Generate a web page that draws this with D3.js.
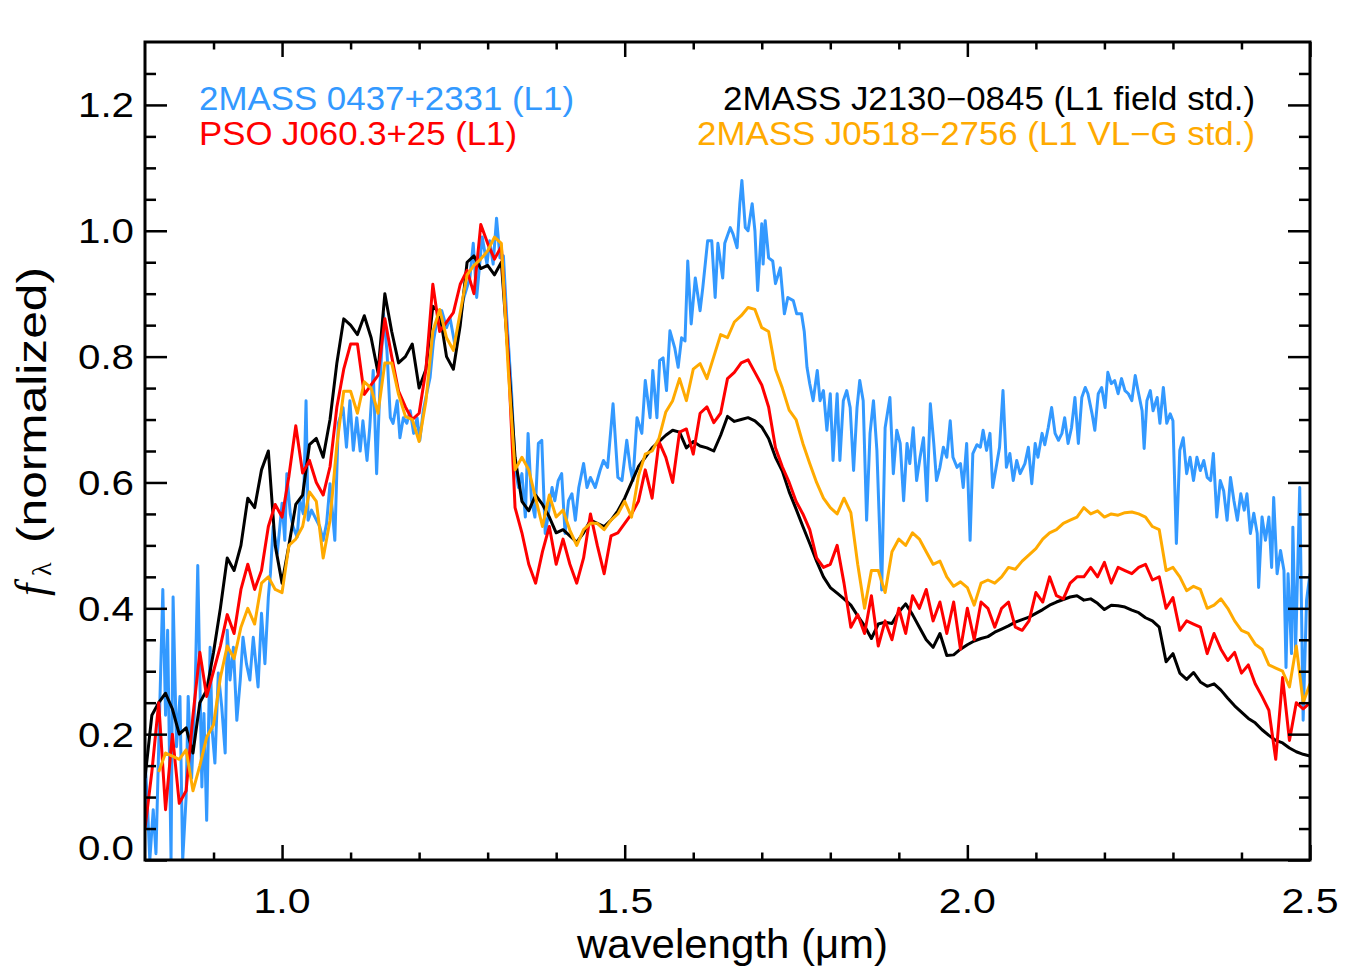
<!DOCTYPE html>
<html>
<head>
<meta charset="utf-8">
<script src="https://cdn.jsdelivr.net/npm/d3@7/dist/d3.min.js"></script>
<style>
  body { margin: 0; background: #fff; }
  text { font-family: "Liberation Sans", Arial, Helvetica, sans-serif; }
</style>
</head>
<body>
<div id="chart-area"></div>
<script>
/*
*    near-infrared spectra, L1 dwarfs
*/

// common wavelength grid (um) for the field std, PSO and VL-G std spectra
var wave = [
  0.80,0.81,0.82,0.83,0.84,0.85,0.86,0.87,0.88,0.89,
  0.90,0.91,0.92,0.93,0.94,0.95,0.96,0.97,0.98,0.99,
  1.00,1.01,1.02,1.03,1.04,1.05,1.06,1.07,1.08,1.09,
  1.10,1.11,1.12,1.13,1.14,1.15,1.16,1.17,1.18,1.19,
  1.20,1.21,1.22,1.23,1.24,1.25,1.26,1.27,1.28,1.29,
  1.30,1.31,1.32,1.33,1.34,1.35,1.36,1.37,1.38,1.39,
  1.40,1.41,1.42,1.43,1.44,1.45,1.46,1.47,1.48,1.49,
  1.50,1.51,1.52,1.53,1.54,1.55,1.56,1.57,1.58,1.59,
  1.60,1.61,1.62,1.63,1.64,1.65,1.66,1.67,1.68,1.69,
  1.70,1.71,1.72,1.73,1.74,1.75,1.76,1.77,1.78,1.79,
  1.80,1.81,1.82,1.83,1.84,1.85,1.86,1.87,1.88,1.89,
  1.90,1.91,1.92,1.93,1.94,1.95,1.96,1.97,1.98,1.99,
  2.00,2.01,2.02,2.03,2.04,2.05,2.06,2.07,2.08,2.09,
  2.10,2.11,2.12,2.13,2.14,2.15,2.16,2.17,2.18,2.19,
  2.20,2.21,2.22,2.23,2.24,2.25,2.26,2.27,2.28,2.29,
  2.30,2.31,2.32,2.33,2.34,2.35,2.36,2.37,2.38,2.39,
  2.40,2.41,2.42,2.43,2.44,2.45,2.46,2.47,2.48,2.49,
  2.50
];

// 2MASS J2130-0845 (L1 field std.)
var fieldStd = [
  0.13,0.23,0.25,0.265,0.24,0.20,0.21,0.17,0.25,0.27,
  0.33,0.40,0.48,0.46,0.50,0.575,0.56,0.62,0.65,0.50,
  0.44,0.50,0.565,0.58,0.66,0.67,0.64,0.70,0.79,0.86,
  0.85,0.835,0.865,0.83,0.775,0.90,0.84,0.79,0.80,0.82,
  0.75,0.78,0.88,0.87,0.80,0.78,0.85,0.95,0.96,0.94,
  0.945,0.93,0.95,0.80,0.64,0.57,0.555,0.58,0.565,0.545,
  0.52,0.525,0.515,0.505,0.52,0.54,0.535,0.53,0.54,0.555,
  0.575,0.60,0.625,0.64,0.655,0.665,0.675,0.683,0.68,0.655,
  0.665,0.658,0.655,0.65,0.675,0.705,0.697,0.70,0.703,0.698,
  0.688,0.67,0.64,0.618,0.585,0.558,0.53,0.503,0.475,0.45,
  0.433,0.424,0.415,0.405,0.388,0.372,0.352,0.375,0.378,0.376,
  0.394,0.407,0.39,0.37,0.35,0.338,0.36,0.325,0.326,0.335,
  0.342,0.348,0.352,0.355,0.362,0.367,0.372,0.378,0.382,0.386,
  0.392,0.398,0.405,0.41,0.414,0.418,0.42,0.413,0.415,0.408,
  0.398,0.405,0.404,0.402,0.397,0.393,0.385,0.38,0.37,0.315,
  0.328,0.297,0.287,0.298,0.283,0.276,0.28,0.27,0.257,0.245,
  0.235,0.225,0.218,0.207,0.198,0.19,0.186,0.178,0.172,0.168,
  0.165
];

// PSO J060.3+25 (L1)
var psoFlux = [
  0.05,0.14,0.25,0.08,0.20,0.09,0.11,0.23,0.33,0.26,
  0.30,0.34,0.39,0.36,0.43,0.47,0.43,0.46,0.53,0.565,
  0.545,0.61,0.69,0.615,0.635,0.60,0.58,0.625,0.72,0.78,
  0.82,0.82,0.74,0.755,0.77,0.86,0.80,0.745,0.72,0.70,
  0.71,0.78,0.915,0.84,0.855,0.87,0.915,0.937,0.90,1.01,
  0.98,0.955,0.975,0.80,0.56,0.52,0.47,0.44,0.49,0.53,
  0.47,0.51,0.47,0.44,0.48,0.55,0.50,0.455,0.515,0.52,
  0.535,0.55,0.57,0.62,0.575,0.665,0.64,0.60,0.68,0.685,
  0.645,0.71,0.72,0.695,0.71,0.765,0.775,0.79,0.795,0.775,
  0.755,0.72,0.655,0.625,0.60,0.57,0.55,0.525,0.48,0.465,
  0.47,0.50,0.44,0.37,0.39,0.36,0.42,0.34,0.38,0.35,
  0.40,0.36,0.42,0.40,0.43,0.38,0.41,0.36,0.41,0.335,
  0.40,0.35,0.41,0.40,0.37,0.40,0.41,0.37,0.365,0.38,
  0.425,0.41,0.45,0.42,0.415,0.44,0.45,0.45,0.465,0.45,
  0.473,0.44,0.465,0.46,0.455,0.465,0.47,0.445,0.45,0.40,
  0.417,0.365,0.38,0.375,0.37,0.328,0.36,0.335,0.317,0.33,
  0.297,0.31,0.28,0.26,0.238,0.16,0.29,0.19,0.25,0.24,
  0.25
];

// 2MASS J0518-2756 (L1 VL-G std.), starts at 0.82 um
var vlgStd = [
  null,null,0.14,0.17,0.165,0.16,0.175,0.11,0.15,0.195,
  0.215,0.29,0.34,0.32,0.37,0.40,0.375,0.44,0.45,0.43,
  0.425,0.50,0.51,0.53,0.585,0.57,0.48,0.54,0.66,0.745,
  0.745,0.71,0.76,0.75,0.71,0.79,0.79,0.74,0.705,0.70,
  0.665,0.73,0.84,0.875,0.83,0.81,0.87,0.93,0.945,0.955,
  0.968,0.99,0.98,0.78,0.62,0.64,0.62,0.575,0.53,0.58,
  0.545,0.556,0.524,0.50,0.525,0.535,0.535,0.525,0.54,0.55,
  0.57,0.545,0.61,0.645,0.65,0.67,0.712,0.73,0.765,0.73,
  0.78,0.789,0.765,0.80,0.835,0.83,0.855,0.865,0.878,0.875,
  0.846,0.84,0.78,0.75,0.715,0.70,0.662,0.63,0.60,0.575,
  0.56,0.55,0.575,0.552,0.47,0.40,0.46,0.46,0.425,0.49,
  0.51,0.50,0.52,0.51,0.49,0.47,0.475,0.45,0.435,0.442,
  0.433,0.405,0.44,0.445,0.44,0.45,0.465,0.462,0.475,0.485,
  0.495,0.51,0.52,0.525,0.535,0.54,0.545,0.56,0.55,0.555,
  0.545,0.55,0.548,0.552,0.553,0.55,0.545,0.53,0.525,0.46,
  0.465,0.45,0.428,0.435,0.43,0.40,0.405,0.415,0.40,0.38,
  0.365,0.36,0.343,0.335,0.31,0.305,0.30,0.275,0.34,0.25,
  0.28
];

// 2MASS 0437+2331 (L1), own sampling: [wavelength, flux]
var blueSpec = [
  [0.800,0.16],[0.803,0.10],[0.807,0.00],[0.812,0.08],[0.816,0.01],[0.820,0.18],[0.826,0.43],[0.830,0.23],[0.833,0.365],[0.838,0.00],
  [0.841,0.418],[0.846,0.18],[0.851,0.26],[0.855,0.00],[0.860,0.10],[0.863,0.26],[0.868,0.13],[0.873,0.26],[0.877,0.468],[0.883,0.116],
  [0.886,0.233],[0.890,0.063],[0.895,0.338],[0.898,0.206],[0.902,0.154],[0.907,0.297],[0.912,0.243],[0.917,0.17],[0.920,0.365],[0.924,0.286],
  [0.929,0.338],[0.934,0.222],[0.939,0.286],[0.943,0.354],[0.948,0.312],[0.953,0.286],[0.958,0.354],[0.965,0.275],[0.970,0.392],[0.975,0.312],
  [0.980,0.418],[0.983,0.455],[0.987,0.53],[0.993,0.487],[1.000,0.567],[1.004,0.508],[1.007,0.614],[1.012,0.55],[1.016,0.53],[1.022,0.513],
  [1.026,0.571],[1.031,0.55],[1.035,0.73],[1.038,0.54],[1.043,0.556],[1.048,0.545],[1.055,0.53],[1.060,0.508],[1.065,0.535],[1.070,0.598],
  [1.077,0.508],[1.082,0.694],[1.089,0.719],[1.094,0.656],[1.099,0.73],[1.104,0.651],[1.109,0.703],[1.114,0.65],[1.118,0.698],[1.124,0.635],
  [1.128,0.688],[1.133,0.778],[1.138,0.614],[1.143,0.757],[1.148,0.868],[1.153,0.81],[1.158,0.703],[1.162,0.694],[1.168,0.73],[1.172,0.671],
  [1.177,0.703],[1.182,0.694],[1.187,0.714],[1.192,0.678],[1.197,0.703],[1.201,0.667],[1.206,0.714],[1.211,0.741],[1.216,0.767],[1.221,0.825],
  [1.226,0.857],[1.233,0.873],[1.240,0.846],[1.245,0.862],[1.252,0.82],[1.260,0.857],[1.264,0.889],[1.274,0.925],[1.279,0.98],[1.284,0.894],
  [1.292,0.99],[1.299,0.947],[1.303,0.984],[1.308,0.947],[1.313,1.02],[1.318,0.957],[1.323,0.96],[1.328,0.86],[1.335,0.741],[1.340,0.624],
  [1.345,0.592],[1.350,0.614],[1.355,0.545],[1.359,0.678],[1.364,0.571],[1.369,0.545],[1.374,0.662],[1.379,0.667],[1.384,0.519],[1.388,0.545],
  [1.394,0.592],[1.398,0.571],[1.403,0.603],[1.408,0.614],[1.413,0.519],[1.418,0.571],[1.423,0.582],[1.428,0.54],[1.433,0.592],[1.440,0.63],
  [1.445,0.592],[1.450,0.608],[1.457,0.592],[1.464,0.619],[1.469,0.635],[1.475,0.624],[1.483,0.725],[1.490,0.608],[1.496,0.603],[1.503,0.667],
  [1.508,0.624],[1.512,0.603],[1.518,0.703],[1.525,0.678],[1.530,0.762],[1.537,0.703],[1.541,0.778],[1.547,0.703],[1.551,0.794],[1.556,0.798],
  [1.561,0.746],[1.566,0.841],[1.573,0.814],[1.578,0.783],[1.583,0.83],[1.588,0.825],[1.592,0.952],[1.597,0.852],[1.603,0.925],[1.610,0.873],
  [1.614,0.91],[1.621,0.984],[1.627,0.984],[1.632,0.894],[1.636,0.98],[1.643,0.925],[1.646,0.98],[1.654,1.005],[1.658,0.995],[1.664,0.973],
  [1.668,1.043],[1.671,1.08],[1.676,1.005],[1.680,1.0],[1.686,1.043],[1.690,1.0],[1.694,0.905],[1.700,1.011],[1.702,0.947],[1.705,1.016],
  [1.710,0.957],[1.716,0.952],[1.720,0.916],[1.727,0.941],[1.733,0.868],[1.738,0.894],[1.746,0.889],[1.751,0.868],[1.758,0.868],[1.762,0.84],
  [1.766,0.783],[1.770,0.757],[1.775,0.73],[1.781,0.778],[1.785,0.73],[1.790,0.746],[1.795,0.683],[1.800,0.741],[1.804,0.635],[1.810,0.741],
  [1.814,0.635],[1.819,0.73],[1.824,0.746],[1.829,0.719],[1.834,0.619],[1.839,0.719],[1.843,0.762],[1.848,0.73],[1.853,0.54],[1.858,0.678],
  [1.863,0.73],[1.868,0.651],[1.875,0.429],[1.880,0.687],[1.887,0.735],[1.892,0.614],[1.897,0.683],[1.902,0.662],[1.907,0.571],[1.912,0.662],
  [1.916,0.63],[1.921,0.687],[1.926,0.603],[1.931,0.64],[1.936,0.671],[1.941,0.571],[1.946,0.725],[1.951,0.662],[1.955,0.603],[1.960,0.624],
  [1.965,0.656],[1.970,0.64],[1.975,0.698],[1.979,0.64],[1.985,0.624],[1.990,0.63],[1.994,0.592],[1.999,0.662],[2.004,0.508],[2.008,0.646],
  [2.014,0.66],[2.019,0.656],[2.023,0.683],[2.028,0.651],[2.033,0.678],[2.037,0.592],[2.043,0.63],[2.047,0.656],[2.052,0.746],[2.057,0.624],
  [2.062,0.646],[2.067,0.603],[2.072,0.635],[2.077,0.614],[2.084,0.63],[2.089,0.656],[2.094,0.598],[2.099,0.662],[2.103,0.64],[2.109,0.678],
  [2.113,0.66],[2.118,0.687],[2.123,0.719],[2.128,0.678],[2.133,0.667],[2.138,0.678],[2.142,0.703],[2.147,0.662],[2.152,0.687],[2.157,0.735],
  [2.162,0.662],[2.167,0.735],[2.172,0.751],[2.176,0.741],[2.182,0.709],[2.186,0.683],[2.191,0.741],[2.196,0.751],[2.201,0.719],[2.205,0.775],
  [2.210,0.757],[2.215,0.762],[2.220,0.741],[2.225,0.765],[2.230,0.746],[2.235,0.741],[2.240,0.73],[2.245,0.77],[2.249,0.746],[2.255,0.714],
  [2.258,0.654],[2.262,0.73],[2.267,0.746],[2.271,0.714],[2.277,0.735],[2.281,0.694],[2.286,0.751],[2.291,0.694],[2.296,0.709],[2.300,0.698],
  [2.305,0.503],[2.310,0.651],[2.315,0.671],[2.320,0.614],[2.325,0.64],[2.330,0.603],[2.335,0.64],[2.340,0.619],[2.345,0.635],[2.350,0.608],
  [2.355,0.603],[2.359,0.646],[2.364,0.545],[2.369,0.603],[2.374,0.587],[2.379,0.54],[2.384,0.608],[2.389,0.571],[2.394,0.54],[2.399,0.582],
  [2.404,0.556],[2.408,0.582],[2.413,0.519],[2.418,0.551],[2.423,0.519],[2.425,0.433],[2.430,0.545],[2.435,0.508],[2.440,0.545],[2.444,0.465],
  [2.447,0.576],[2.452,0.455],[2.457,0.492],[2.462,0.46],[2.465,0.306],[2.468,0.455],[2.473,0.328],[2.475,0.529],[2.479,0.333],[2.485,0.592],
  [2.490,0.222],[2.495,0.413],[2.500,0.455]
];

var xMajor = [1.0, 1.5, 2.0, 2.5];
var xMinor = [0.9, 1.1, 1.2, 1.3, 1.4, 1.6, 1.7, 1.8, 1.9, 2.1, 2.2, 2.3, 2.4];
var xLabels = ["1.0", "1.5", "2.0", "2.5"];
var yMajor = [0.0, 0.2, 0.4, 0.6, 0.8, 1.0, 1.2];
var yMinor = [0.05, 0.1, 0.15, 0.25, 0.3, 0.35, 0.45, 0.5, 0.55, 0.65, 0.7, 0.75,
              0.85, 0.9, 0.95, 1.05, 1.1, 1.15, 1.25];
var yLabels = ["0.0", "0.2", "0.4", "0.6", "0.8", "1.0", "1.2"];

var legendLeft = [
  {name: "2MASS 0437+2331 (L1)", color: "#3399ff", len: 375},
  {name: "PSO J060.3+25 (L1)", color: "#ff0000", len: 318}
];
var legendRight = [
  {name: "2MASS J2130\u22120845 (L1 field std.)", color: "#000000", len: 532},
  {name: "2MASS J0518\u22122756 (L1 VL\u2212G std.)", color: "#ffaa00", len: 558}
];

var margin = {left: 145, right: 1310, top: 42, bottom: 860};

var svg = d3.select("#chart-area")
  .append("svg")
  .attr("width", 1350)
  .attr("height", 975);

var x = d3.scaleLinear().domain([0.8, 2.5]).range([margin.left, margin.right]);
var y = d3.scaleLinear().domain([0, 1.3]).range([margin.bottom, margin.top]);

svg.append("clipPath").attr("id", "plot-clip")
  .append("rect")
  .attr("x", margin.left).attr("y", margin.top)
  .attr("width", margin.right - margin.left)
  .attr("height", margin.bottom - margin.top);

var line = d3.line()
  .defined(d => d[1] != null)
  .x(d => x(d[0]))
  .y(d => y(d[1]));

var series = [
  {data: blueSpec, color: "#3399ff"},
  {data: wave.map((w, i) => [w, fieldStd[i]]), color: "#000000"},
  {data: wave.map((w, i) => [w, psoFlux[i]]), color: "#ff0000"},
  {data: wave.map((w, i) => [w, vlgStd[i]]), color: "#ffaa00"}
];

svg.append("g")
  .attr("clip-path", "url(#plot-clip)")
  .selectAll("path")
  .data(series)
  .enter().append("path")
  .attr("d", d => line(d.data))
  .attr("fill", "none")
  .attr("stroke", d => d.color)
  .attr("stroke-width", 3)
  .attr("stroke-linejoin", "round");

// inward ticks on all four sides
function ticks(axis, vals, size, tx, ty) {
  svg.append("g")
    .attr("transform", "translate(" + tx + "," + ty + ")")
    .call(axis.tickValues(vals).tickSize(size).tickSizeOuter(0).tickFormat(""))
    .call(g => g.select(".domain").remove())
    .selectAll("line")
    .attr("stroke", "#000")
    .attr("stroke-width", 2.5);
}
ticks(d3.axisBottom(x), xMajor, -15, 0, margin.bottom);
ticks(d3.axisBottom(x), xMinor, -7.5, 0, margin.bottom);
ticks(d3.axisTop(x), xMajor, -15, 0, margin.top);
ticks(d3.axisTop(x), xMinor, -7.5, 0, margin.top);
ticks(d3.axisLeft(y), yMajor, -22, margin.left, 0);
ticks(d3.axisLeft(y), yMinor, -11, margin.left, 0);
ticks(d3.axisRight(y), yMajor, -22, margin.right, 0);
ticks(d3.axisRight(y), yMinor, -11, margin.right, 0);

svg.append("rect")
  .attr("x", margin.left).attr("y", margin.top)
  .attr("width", margin.right - margin.left)
  .attr("height", margin.bottom - margin.top)
  .attr("fill", "none")
  .attr("stroke", "#000")
  .attr("stroke-width", 3);

// tick labels
svg.selectAll(".xlab")
  .data(xMajor)
  .enter().append("text")
  .attr("class", "xlab")
  .attr("x", d => x(d))
  .attr("y", 913)
  .attr("text-anchor", "middle")
  .attr("font-size", "35px")
  .attr("textLength", 57)
  .attr("lengthAdjust", "spacingAndGlyphs")
  .text((d, i) => xLabels[i]);

svg.selectAll(".ylab")
  .data(yMajor)
  .enter().append("text")
  .attr("class", "ylab")
  .attr("x", 134)
  .attr("y", d => d === 0 ? 860 : y(d) + 12.5)
  .attr("text-anchor", "end")
  .attr("font-size", "35px")
  .attr("textLength", 56)
  .attr("lengthAdjust", "spacingAndGlyphs")
  .text((d, i) => yLabels[i]);

// axis titles
svg.append("text")
  .attr("x", 577)
  .attr("y", 958)
  .attr("font-size", "40px")
  .attr("textLength", 311)
  .attr("lengthAdjust", "spacingAndGlyphs")
  .text("wavelength (\u03bcm)");

var yTitle = svg.append("g")
  .attr("transform", "translate(46,600) rotate(-90)");
yTitle.append("text")
  .attr("x", 4).attr("y", 0)
  .attr("font-size", "44px")
  .style("font-family", "'Liberation Serif', 'DejaVu Serif', serif")
  .style("font-style", "italic")
  .text("f");
yTitle.append("text")
  .attr("x", 24).attr("y", 5)
  .attr("font-size", "28px")
  .style("font-family", "'Liberation Serif', 'DejaVu Serif', serif")
  .text("\u03bb");
yTitle.append("text")
  .attr("x", 57).attr("y", 0)
  .attr("font-size", "40px")
  .attr("textLength", 276)
  .attr("lengthAdjust", "spacingAndGlyphs")
  .text("(normalized)");

// legend
svg.selectAll(".legl")
  .data(legendLeft)
  .enter().append("text")
  .attr("class", "legl")
  .attr("x", 199)
  .attr("y", (d, i) => 110 + i * 35)
  .attr("font-size", "32.5px")
  .attr("fill", d => d.color)
  .attr("textLength", d => d.len)
  .attr("lengthAdjust", "spacingAndGlyphs")
  .text(d => d.name);

svg.selectAll(".legr")
  .data(legendRight)
  .enter().append("text")
  .attr("class", "legr")
  .attr("x", 1255)
  .attr("y", (d, i) => 110 + i * 35)
  .attr("text-anchor", "end")
  .attr("font-size", "32.5px")
  .attr("fill", d => d.color)
  .attr("textLength", d => d.len)
  .attr("lengthAdjust", "spacingAndGlyphs")
  .text(d => d.name);
</script>
</body>
</html>
